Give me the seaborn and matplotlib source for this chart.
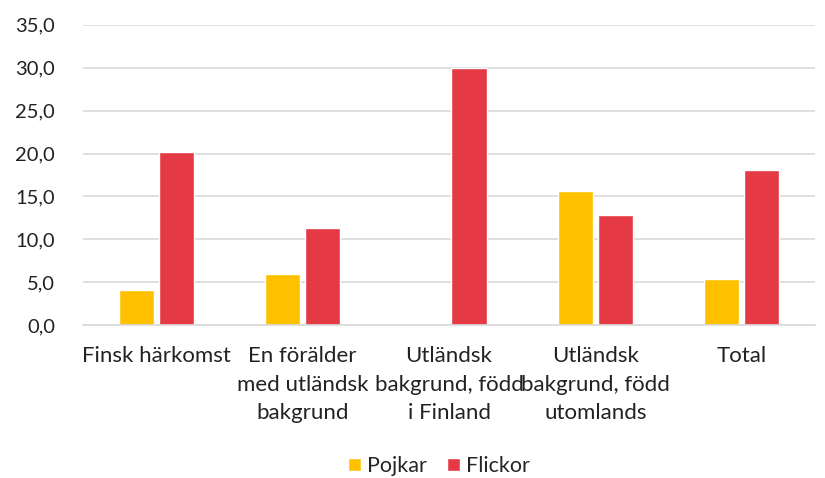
import numpy as np
import pandas as pd
import matplotlib
matplotlib.use("Agg")
import matplotlib.pyplot as plt
import seaborn as sns

categories = ["Finsk härkomst", "En förälder\nmed utländsk\nbakgrund",
              "Utländsk\nbakgrund, född\ni Finland", "Utländsk\nbakgrund, född\nutomlands", "Total"]
pojkar = [4.1, 5.9, np.nan, 15.6, 5.4]
flickor = [20.2, 11.3, 30.0, 12.8, 18.1]
series = ["Pojkar", "Flickor"]
yticks = [0, 5, 10, 15, 20, 25, 30, 35]

df = pd.DataFrame({
    "cat": categories * 2,
    "serie": ["Pojkar"] * 5 + ["Flickor"] * 5,
    "val": pojkar + flickor,
})

sns.set_theme(style="white")
plt.rcParams['font.family'] = ['Lato', 'DejaVu Sans']

fig = plt.figure(figsize=(8.25, 4.78), dpi=100)
ax = fig.add_axes([0.1006, 0.32, 0.8874, 0.628])
palette = {"Pojkar": "#FFC000", "Flickor": "#E63946"}
sns.barplot(data=df, x="cat", y="val", hue="serie", hue_order=series,
            palette=palette, width=0.545, gap=0.12, saturation=1, ax=ax,
            order=categories, legend=True, errorbar=None)

ax.set_ylim(0, 35)
ax.set_yticks(yticks)
ax.set_yticklabels([f"{v:.1f}".replace(".", ",") for v in yticks], fontsize=14.5, color="#222222")
ax.set_xlim(-0.5, 4.5)
ax.tick_params(axis="x", labelsize=16, colors="#222222", length=0, pad=15)
ax.tick_params(axis="y", length=0, pad=20)
for lbl in ax.get_xticklabels():
    lbl.set_linespacing(1.55)
ax.set_xlabel("")
ax.set_ylabel("")
ax.grid(axis="y", color="#D9D9D9", linewidth=1.2)
ax.set_axisbelow(True)
for s in ["top", "right", "left"]:
    ax.spines[s].set_visible(False)
ax.spines["bottom"].set_color("#D9D9D9")
ax.spines["bottom"].set_linewidth(1.2)

ax.legend(loc="center", bbox_to_anchor=(439 / 825, (478 - 466) / 478), bbox_transform=fig.transFigure,
          ncol=2, frameon=False, fontsize=15.5, handlelength=0.6, handleheight=0.6,
          handletextpad=0.3, columnspacing=0.9)

fig.savefig("out.png", dpi=100)
